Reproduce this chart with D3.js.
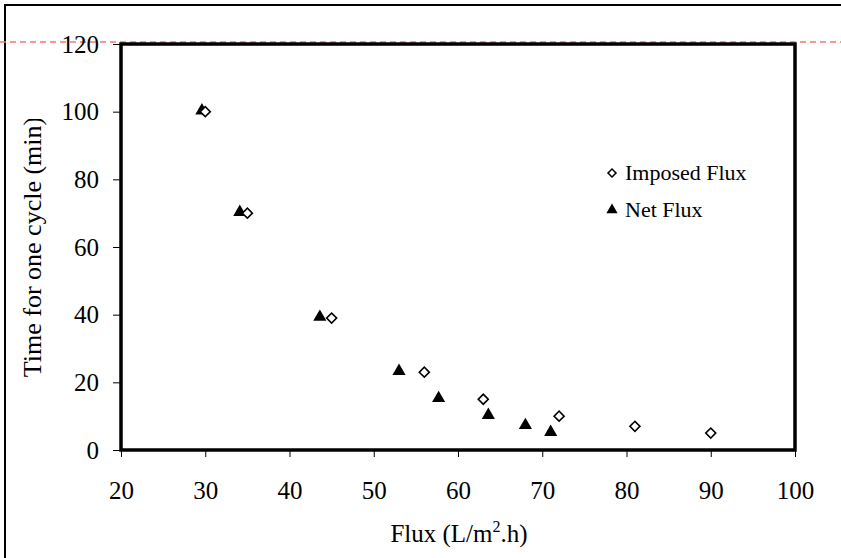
<!DOCTYPE html>
<html>
<head>
<meta charset="utf-8">
<script src="https://cdn.jsdelivr.net/npm/d3@7"></script>
<style>
  body { margin: 0; background: #fff; }
  svg { display: block; }
  svg text { font-family: "Liberation Serif", "Times New Roman", Times, "DejaVu Serif", serif; }
</style>
</head>
<body>
<div id="chart"></div>
<script>
// data
const timeMin = [100, 70, 39, 23, 15, 10, 7, 5];
const imposedFlux = [30, 35, 45, 56, 63, 72, 81, 90];
const netFlux = [29.6, 34.1, 43.6, 53, 57.7, 63.6, 68, 71];
const xTicks = [20, 30, 40, 50, 60, 70, 80, 90, 100];
const yTicks = [0, 20, 40, 60, 80, 100, 120];
const seriesNames = ["Imposed Flux", "Net Flux"];

const W = 841, H = 558;
const PLOT = { LEFT: 121, RIGHT: 795, TOP: 44, BOTTOM: 450 };

const svg = d3.select("#chart").append("svg")
    .attr("width", W)
    .attr("height", H);

// outer frame (only top and left edges visible)
svg.append("path")
    .attr("d", `M5,${H} L5,5 L${W},5`)
    .attr("fill", "none")
    .attr("stroke", "#000")
    .attr("stroke-width", 2);

const x = d3.scaleLinear().domain([20, 100]).range([PLOT.LEFT, PLOT.RIGHT]);
const y = d3.scaleLinear().domain([0, 120]).range([PLOT.BOTTOM, PLOT.TOP]);

// dashed reference line just above the top of the y range
svg.append("line")
    .attr("x1", 0).attr("x2", W)
    .attr("y1", y(120) - 2).attr("y2", y(120) - 2)
    .attr("stroke", "#f07878")
    .attr("stroke-width", 1.3)
    .attr("stroke-dasharray", "6,4");

// axes
const yAxis = svg.append("g")
    .attr("transform", `translate(${PLOT.LEFT},0)`)
    .call(d3.axisLeft(y).tickValues(yTicks).tickSize(8).tickPadding(14));
const xAxis = svg.append("g")
    .attr("transform", `translate(0,${PLOT.BOTTOM})`)
    .call(d3.axisBottom(x).tickValues(xTicks).tickSize(7).tickPadding(24));

[xAxis, yAxis].forEach(g => {
    g.attr("font-family", null);
    g.select(".domain").remove();
    g.selectAll("line").attr("stroke", "#000").attr("stroke-width", 1);
    g.selectAll("text")
        .style("font-size", "25px")
        .attr("fill", "#000");
});

// plot border
svg.append("rect")
    .attr("x", PLOT.LEFT).attr("y", PLOT.TOP)
    .attr("width", PLOT.RIGHT - PLOT.LEFT)
    .attr("height", PLOT.BOTTOM - PLOT.TOP)
    .attr("fill", "none")
    .attr("stroke", "#000")
    .attr("stroke-width", 3.5);

const diamond = d3.symbol().type(d3.symbolSquare).size(50);
const triangle = d3.symbol().type(d3.symbolTriangle).size(75);

// Net Flux (filled triangles)
svg.selectAll(".net")
    .data(netFlux)
    .enter().append("path")
    .attr("class", "net")
    .attr("d", triangle)
    .attr("transform", (d, i) => `translate(${x(d)},${y(timeMin[i]) - 1})`)
    .attr("fill", "#000");

// Imposed Flux (open diamonds)
svg.selectAll(".imposed")
    .data(imposedFlux)
    .enter().append("path")
    .attr("class", "imposed")
    .attr("d", diamond)
    .attr("transform", (d, i) => `translate(${x(d)},${y(timeMin[i])}) rotate(45)`)
    .attr("fill", "#fff")
    .attr("stroke", "#000")
    .attr("stroke-width", 1.6);

// legend
const legend = svg.append("g").attr("transform", "translate(612,173)");
legend.append("path")
    .attr("d", d3.symbol().type(d3.symbolSquare).size(32))
    .attr("transform", "rotate(45)")
    .attr("fill", "#fff")
    .attr("stroke", "#000")
    .attr("stroke-width", 1.5);
legend.append("path")
    .attr("d", d3.symbol().type(d3.symbolTriangle).size(55))
    .attr("transform", "translate(0,37)")
    .attr("fill", "#000");
legend.selectAll("text")
    .data(seriesNames)
    .enter().append("text")
    .attr("x", 13)
    .attr("y", (d, i) => i * 37 + 7)
    .style("font-size", "22px")
    .attr("fill", "#000")
    .text(d => d);

// axis titles
const xTitle = svg.append("text")
    .attr("x", 459)
    .attr("y", 542)
    .attr("text-anchor", "middle")
    .attr("fill", "#000")
    .style("font-size", "25px");
xTitle.append("tspan").text("Flux (L/m");
xTitle.append("tspan").attr("dy", -10).style("font-size", "16px").text("2");
xTitle.append("tspan").attr("dy", 10).text(".h)");

// y title is clipped at the top in the original
svg.append("clipPath").attr("id", "ytitle-clip")
    .append("rect").attr("x", 0).attr("y", 119).attr("width", 110).attr("height", H);
svg.append("g")
    .attr("clip-path", "url(#ytitle-clip)")
    .append("text")
    .attr("transform", "translate(41,247) rotate(-90)")
    .attr("text-anchor", "middle")
    .attr("fill", "#000")
    .style("font-size", "26px")
    .text("Time for one cycle (min)");
</script>
</body>
</html>
